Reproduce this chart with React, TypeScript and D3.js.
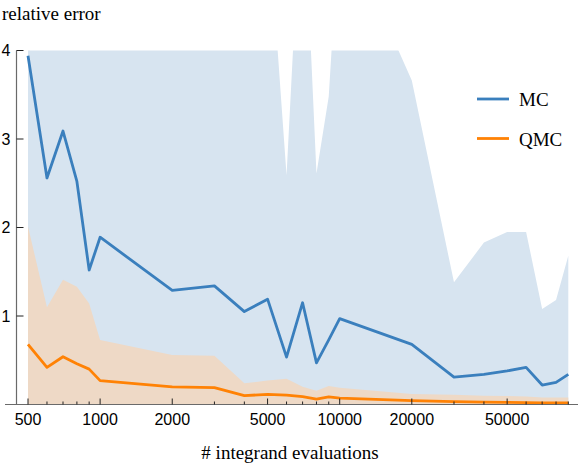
import * as d3 from "d3";

// number of integrand evaluations
const evals = [500, 600, 700, 800, 900, 1000, 2000, 3000, 4000, 5000, 6000, 7000, 8000, 9000, 10000, 20000, 30000, 40000, 50000, 60000, 70000, 80000, 90000];

// relative error, Monte Carlo
const mcError = [3.94, 2.56, 3.09, 2.52, 1.52, 1.89, 1.29, 1.34, 1.05, 1.19, 0.535, 1.15, 0.47, 0.73, 0.97, 0.68, 0.31, 0.34, 0.38, 0.42, 0.22, 0.25, 0.34];
// upper edge of the MC spread (goes off the top of the plot)
const mcUpper = [7.4, 5.1, 6.2, 5.3, 4.6, 5.8, 4.9, 5.1, 4.8, 5.6, 2.59, 6.1, 2.61, 3.48, 5.5, 3.66, 1.38, 1.83, 1.95, 1.95, 1.08, 1.18, 1.68];

// relative error, quasi Monte Carlo
const qmcError = [0.68, 0.42, 0.54, 0.46, 0.4, 0.27, 0.2, 0.19, 0.1, 0.115, 0.105, 0.088, 0.062, 0.085, 0.073, 0.043, 0.032, 0.027, 0.024, 0.021, 0.019, 0.018, 0.017];
const qmcUpper = [2.01, 1.1, 1.41, 1.33, 1.14, 0.73, 0.56, 0.55, 0.24, 0.27, 0.29, 0.2, 0.155, 0.21, 0.19, 0.12, 0.11, 0.1, 0.095, 0.09, 0.08, 0.08, 0.08];

const majorTicks = [500, 1000, 2000, 5000, 10000, 20000, 50000];
const minorTicks = [600, 700, 800, 900, 3000, 4000, 6000, 7000, 8000, 9000, 30000, 40000, 60000, 70000, 80000, 90000];
const yTicks = [1, 2, 3, 4];

const legend = [
  { label: "MC", color: "#3a7fbd" },
  { label: "QMC", color: "#ff8205" },
];

export default function App() {
  const width = 581;
  const height = 474;

  const x = d3.scaleLog().domain([500, 90000]).range([28, 568.3]);
  const y = d3.scaleLinear().domain([0, 4]).range([404.5, 50.5]);

  const band = (upper: number[]) =>
    d3.area<number>()
      .x((d) => x(d))
      .y0(y(0))
      .y1((_, i) => y(upper[i]))(evals) ?? "";

  const line = (vals: number[]) =>
    d3.line<number>()
      .x((d) => x(d))
      .y((_, i) => y(vals[i]))(evals) ?? "";

  const axisColor = "#6a6a6a";
  const sans = "'Liberation Sans', Arial, sans-serif";
  const serif = "'Liberation Serif', 'Times New Roman', serif";

  return (
    <svg width={width} height={height} style={{ position: "absolute", left: 0, top: 0 }}>
      <defs>
        <clipPath id="plot">
          <rect x={16.5} y={y(4)} width={width - 16.5} height={y(0) - y(4)} />
        </clipPath>
      </defs>

      <g clipPath="url(#plot)">
        <path d={band(mcUpper)} fill="#d7e4f0" />
        <path d={band(qmcUpper)} fill="#eed9c6" />
        <path d={line(qmcError)} fill="none" stroke={legend[1].color} strokeWidth={2.8} strokeLinejoin="round" />
        <path d={line(mcError)} fill="none" stroke={legend[0].color} strokeWidth={2.8} strokeLinejoin="round" />
      </g>

      {/* axes */}
      <line x1={5} x2={578} y1={y(0)} y2={y(0)} stroke={axisColor} strokeWidth={1.2} />
      <line x1={16.5} x2={16.5} y1={y(4)} y2={y(0)} stroke={axisColor} strokeWidth={1.2} />

      {majorTicks.map((t) => (
        <g key={t}>
          <line x1={x(t)} x2={x(t)} y1={y(0)} y2={y(0) - 6} stroke="#222" strokeWidth={1} />
          <text x={x(t)} y={425} textAnchor="middle" fontFamily={sans} fontSize={16} fill="#000">
            {t}
          </text>
        </g>
      ))}
      {minorTicks.map((t) => (
        <line key={t} x1={x(t)} x2={x(t)} y1={y(0)} y2={y(0) - 3} stroke="#222" strokeWidth={1} />
      ))}
      {yTicks.map((t) => (
        <g key={t}>
          <line x1={16.5} x2={23.5} y1={y(t)} y2={y(t)} stroke="#222" strokeWidth={1} />
          <text x={10.5} y={y(t)} textAnchor="end" dominantBaseline="central" fontFamily={sans} fontSize={16} fill="#000">
            {t}
          </text>
        </g>
      ))}

      <text x={2} y={20} fontFamily={serif} fontSize={19} fill="#000">relative error</text>
      <text x={290} y={459} textAnchor="middle" fontFamily={serif} fontSize={19} fill="#000"># integrand evaluations</text>

      {/* legend */}
      {legend.map((l, i) => (
        <g key={l.label} transform={`translate(477,${99 + i * 39.5})`}>
          <line x1={0} x2={32} y1={0} y2={0} stroke={l.color} strokeWidth={2.8} />
          <text x={42} y={7} fontFamily={serif} fontSize={19} fill="#000">{l.label}</text>
        </g>
      ))}
    </svg>
  );
}
